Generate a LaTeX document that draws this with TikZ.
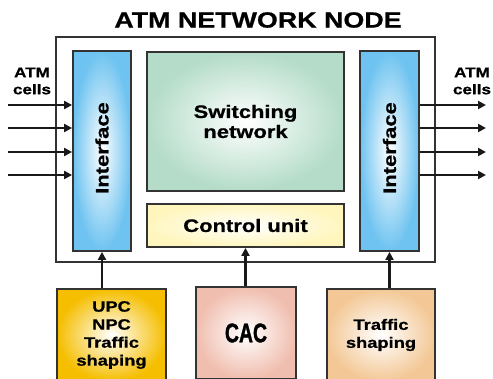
\documentclass[tikz,border=0pt]{standalone}
\usepackage{fontspec}
\setmainfont{Liberation Sans}[FakeStretch=1.22, BoldFeatures={FakeBold=0.8}]
\newfontfamily\narrowfont{Liberation Sans}[FakeStretch=0.72, BoldFeatures={FakeBold=1.2}]
\usetikzlibrary{arrows.meta}

\definecolor{ifblue}{HTML}{6EC3F0}
\definecolor{swgreen}{HTML}{B4DCC8}
\definecolor{ctyellow}{HTML}{FFF6BE}
\definecolor{upcgold}{HTML}{F5BE00}
\definecolor{cacpink}{HTML}{F0BEAF}
\definecolor{tspeach}{HTML}{F3C896}

\begin{document}
\begin{tikzpicture}[x=1pt, y=1pt]

    \tikzstyle{block}=[draw=black!80, line width=1.8pt, inner sep=0pt, align=center, font=\bfseries\fontsize{18}{20}\selectfont];
    \tikzstyle{small}=[font=\bfseries\fontsize{15}{18}\selectfont, align=center];
    \tikzstyle{flow}=[-{Triangle[length=8pt, width=8pt]}, line width=2.2pt, black!90];

    \useasboundingbox (0,0) rectangle (493,378);

    \node (title) at (258, 358) [font=\bfseries\fontsize{22}{24}\selectfont] {ATM NETWORK NODE};

    \node[draw=black!80, line width=1.5pt, minimum width=379pt, minimum height=225pt] (box) at (245.5, 228.5) {};

    \node[block, inner color=white, outer color=ifblue, minimum width=58pt, minimum height=200pt] (ifin) at (102, 227) {};
    \node[block, inner color=white, outer color=ifblue, minimum width=59pt, minimum height=200pt] (ifout) at (389.5, 227) {};
    \node[rotate=90, font=\bfseries\fontsize{18}{20}\selectfont] at (102, 230) {Interface};
    \node[rotate=90, font=\bfseries\fontsize{18}{20}\selectfont] at (389.5, 230) {Interface};

    \node[block, inner color=white, outer color=swgreen, minimum width=197pt, minimum height=139pt] (switch) at (245.5, 256.5) {Switching\\network};
    \node[block, inner color=white, outer color=ctyellow, minimum width=197pt, minimum height=43pt] (ctrl) at (245.5, 152.5) {Control unit};

    \node[block, small, inner color=white, outer color=upcgold, minimum width=109pt, minimum height=92pt] (upc) at (111.5, 43) {UPC\\NPC\\Traffic\\shaping};
    \node[block, inner color=white, outer color=cacpink, minimum width=100pt, minimum height=92pt, font=\narrowfont\bfseries\fontsize{27}{30}\selectfont] (cac) at (246, 45) {CAC};
    \node[block, small, inner color=white, outer color=tspeach, minimum width=108pt, minimum height=92pt] (shape) at (381, 43) {Traffic\\shaping};

    \node[font=\bfseries\fontsize{14}{17}\selectfont, align=center] (cellsin) at (32, 297) {ATM\\cells};
    \node[font=\bfseries\fontsize{14}{17}\selectfont, align=center] (cellsout) at (472, 297) {ATM\\cells};

    \foreach \y [count=\i] in {273, 250, 226, 203} {
        \coordinate (in\i) at (8, \y);
        \coordinate (out\i) at (486, \y);
        \draw[flow] (in\i) -- (in\i -| ifin.west);
        \draw[flow] (out\i -| ifout.east) -- (out\i);
    }

    \draw[flow] (ifin.south |- upc.north) -- (ifin.south);
    \draw[flow] (ctrl.south |- cac.north) -- (ctrl.south);
    \draw[flow] (ifout.south |- shape.north) -- (ifout.south);

\end{tikzpicture}
\end{document}
